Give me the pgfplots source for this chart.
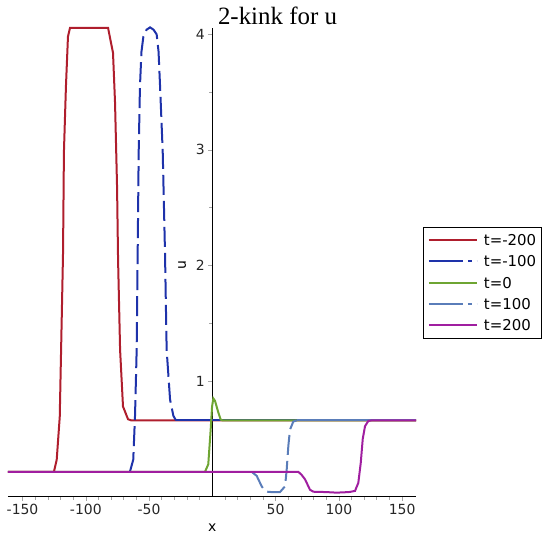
\documentclass[border=0pt]{standalone}
\usepackage{fontspec}
\setmainfont{DejaVu Sans}
\newfontfamily\titlefont{Liberation Serif}
\usepackage{pgfplots}
\pgfplotsset{compat=1.18}

\definecolor{cA}{RGB}{175,30,45}
\definecolor{cB}{RGB}{30,50,170}
\definecolor{cC}{RGB}{110,165,50}
\definecolor{cD}{RGB}{90,125,185}
\definecolor{cE}{RGB}{160,30,160}

\tikzset{
  sA/.style={cA, line width=2bp},
  sB/.style={cB, line width=2bp},
  sC/.style={cC, line width=2bp},
  sD/.style={cD, line width=2bp},
  sE/.style={cE, line width=2bp},
  dsh/.style={dash pattern=on 20bp off 6bp},
}

\begin{document}
\begin{tikzpicture}
\useasboundingbox (0,0) rectangle (542bp,544bp);
\begin{axis}[
    at={(8bp,47.3bp)}, anchor=south west,
    scale only axis,
    width=408bp, height=468.4bp,
    xmin=-161.5, xmax=161, ymin=0, ymax=4.052,
    axis lines=middle,
    axis line style={-, black, line width=0.8bp},
    clip=false,
    xtick={-150,-100,...,150},
    ytick={1,2,3,4},
    minor x tick num=4,
    minor y tick num=1,
    tick align=outside,
    major tick length=4bp, minor tick length=3bp,
    every tick/.style={gray!70, line width=0.6bp},
    /pgf/number format/assume math mode=true,
    ticklabel style={font=\fontsize{14}{16}\selectfont, text=black!85},
    xlabel={x}, ylabel={u},
    every axis x label/.style={at={(axis cs:0,-0.27)}, anchor=center, font=\fontsize{14}{16}\selectfont},
    every axis y label/.style={at={(axis cs:-24,2)}, anchor=center, rotate=90, font=\fontsize{14}{16}\selectfont},
    legend cell align=left,
    legend image code/.code={\draw[#1] (0bp,0bp) -- (48bp,0bp);},
    legend style={at={(1.0164,0.5764)}, anchor=north west, draw=black,
        font=\fontsize{15}{17}\selectfont, inner xsep=5bp, inner ysep=6.5bp,
        row sep=8.3bp, column sep=6bp,
        nodes={inner sep=0pt, text height=12bp, text depth=1bp}},
    no markers,
]
\addlegendimage{sA}
\addlegendentry{t=-200\hspace{6bp}}
\addlegendimage{sB, dash pattern=on 34bp off 5bp on 4bp off 5bp}
\addlegendentry{t=-100}
\addlegendimage{sC}
\addlegendentry{t=0}
\addlegendimage{sD, dash pattern=on 34bp off 5bp on 4bp off 5bp}
\addlegendentry{t=100}
\addlegendimage{sE}
\addlegendentry{t=200}
% t=-200
\addplot[sA, forget plot] coordinates {
(-161.5,0.215) (-125.2,0.215) (-123,0.32) (-120.6,0.69) (-119,1.56) (-118,2.11)
(-117.3,2.98) (-115.7,3.55) (-114.1,3.98) (-112.5,4.055) (-82.4,4.055) (-78.5,3.84)
(-76.9,3.41) (-75.3,2.68) (-74.5,2.05) (-72.9,1.27) (-70.6,0.78) (-66.6,0.67)
(-64,0.66) (161,0.66)};
% t=-100
\addplot[sB, forget plot] coordinates {(-161.5,0.215) (-65.1,0.215)};
\addplot[sB, dsh, forget plot] coordinates {
(-65.1,0.217) (-62.5,0.32) (-61.1,0.70) (-59.8,1.27) (-59.0,2.11) (-58.2,2.98)
(-57.2,3.55) (-56,3.85) (-54.5,3.98) (-52,4.04) (-49.2,4.06) (-46.5,4.04)
(-44.0,4.00) (-42.5,3.85) (-41.3,3.55) (-39.2,2.98) (-37.4,2.11) (-36.1,1.27)
(-33.4,0.84) (-30.8,0.70) (-28.7,0.66)};
\addplot[sB, forget plot] coordinates {(-28.7,0.66) (161,0.66)};
% t=0
\addplot[sC, forget plot] coordinates {
(-161.5,0.215) (-5.8,0.215) (-3.2,0.28) (-1.3,0.58) (-0.2,0.78) (0.8,0.85)
(2.1,0.83) (4.7,0.73) (6.6,0.667) (8,0.66) (161,0.66)};
% t=100
\addplot[sD, forget plot] coordinates {(-161.5,0.215) (31.1,0.215)};
\addplot[sD, dsh, forget plot] coordinates {
(31.1,0.215) (35.1,0.18) (39,0.09) (41.7,0.05) (44,0.042) (47,0.04) (53.5,0.04)
(57.5,0.09) (58.8,0.236) (60.1,0.44) (61.4,0.58) (64,0.65) (66.7,0.66)};
\addplot[sD, forget plot] coordinates {(66.7,0.66) (161,0.66)};
% t=200
\addplot[sE, forget plot] coordinates {
(-161.5,0.215) (68,0.215) (70.5,0.19) (73.3,0.15) (77.2,0.06) (79.9,0.043)
(90,0.04) (98.3,0.035) (108,0.04) (112.8,0.05) (115.4,0.12) (117.3,0.29)
(118.9,0.50) (120.7,0.61) (123.3,0.655) (125.9,0.66) (161,0.66)};
\end{axis}
\node[font=\titlefont\fontsize{25}{27}\selectfont] at (277.5bp,528bp) {2-kink for u};
\end{tikzpicture}
\end{document}
